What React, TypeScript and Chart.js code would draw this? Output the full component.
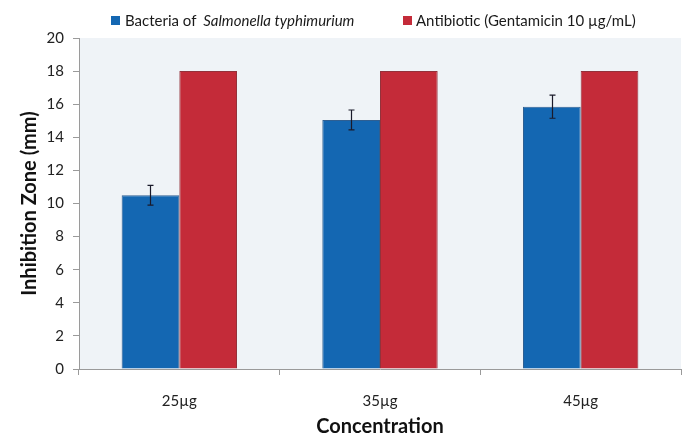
import React, { useEffect, useRef } from "react";
import { Chart, registerables } from "chart.js";

Chart.register(...registerables);

const categories = ["25µg", "35µg", "45µg"];
const bacteriaValues = [10.5, 15.05, 15.85];
const bacteriaErrors = [0.6, 0.6, 0.7];
const antibioticValues = [18, 18, 18];
const seriesNames = ["Bacteria of ", "Salmonella typhimurium", "Antibiotic (Gentamicin 10 µg/mL)"];
const yTitle = "Inhibition Zone (mm)";
const xTitle = "Concentration";

const BLUE = "#1467B2";
const RED = "#C42B39";
const FONT = "Lato, 'Open Sans', sans-serif";

const bgPlugin = {
  id: "plotBg",
  beforeDraw(chart: any) {
    const { ctx, chartArea } = chart;
    ctx.save();
    ctx.fillStyle = "#EFF3F7";
    ctx.fillRect(chartArea.left, chartArea.top, chartArea.right - chartArea.left, chartArea.bottom - chartArea.top);
    ctx.restore();
  },
};

const errorPlugin = {
  id: "errBars",
  afterDatasetsDraw(chart: any) {
    const { ctx } = chart;
    const meta = chart.getDatasetMeta(0);
    const y = chart.scales.y;
    ctx.save();
    ctx.strokeStyle = "#1a1a2a";
    ctx.lineWidth = 1.2;
    meta.data.forEach((bar: any, i: number) => {
      const v = bacteriaValues[i];
      const e = bacteriaErrors[i];
      const x = Math.round(bar.x) + 0.5;
      const yt = y.getPixelForValue(v + e);
      const yb = y.getPixelForValue(v - e);
      ctx.beginPath();
      ctx.moveTo(x, yt);
      ctx.lineTo(x, yb);
      ctx.moveTo(x - 3, yt);
      ctx.lineTo(x + 3, yt);
      ctx.moveTo(x - 3, yb);
      ctx.lineTo(x + 3, yb);
      ctx.stroke();
    });
    ctx.restore();
  },
};

const legendPlugin = {
  id: "customLegend",
  afterDraw(chart: any) {
    const { ctx } = chart;
    const cy = 21;
    ctx.save();
    ctx.textBaseline = "middle";
    ctx.fillStyle = BLUE;
    ctx.fillRect(111, cy - 5, 9, 9);
    ctx.fillStyle = "#1a1a1a";
    ctx.font = `15px ${FONT}`;
    ctx.fillText(seriesNames[0], 125, cy);
    const w0 = ctx.measureText(seriesNames[0]).width;
    ctx.font = `italic 15px ${FONT}`;
    ctx.fillText(seriesNames[1], 125 + w0 + 3, cy);
    ctx.fillStyle = RED;
    ctx.fillRect(403, cy - 5, 9, 9);
    ctx.fillStyle = "#1a1a1a";
    ctx.font = `15px ${FONT}`;
    ctx.fillText(seriesNames[2], 416, cy);
    ctx.restore();
  },
};

export default function App() {
  const ref = useRef<HTMLCanvasElement | null>(null);
  useEffect(() => {
    if (!ref.current) return;
    const chart = new Chart(ref.current, {
      type: "bar",
      data: {
        labels: categories,
        datasets: [
          {
            label: seriesNames[0] + seriesNames[1],
            data: bacteriaValues,
            backgroundColor: BLUE,
            borderColor: "#2f5f92",
            borderWidth: 1,
          },
          {
            label: seriesNames[2],
            data: antibioticValues,
            backgroundColor: RED,
            borderColor: "#93323b",
            borderWidth: 1,
          },
        ],
      },
      options: {
        responsive: false,
        animation: false,
        layout: { padding: { top: 38, right: 13, left: 0, bottom: 0 } },
        datasets: { bar: { categoryPercentage: 0.575, barPercentage: 1 } },
        plugins: {
          legend: { display: false },
          tooltip: { enabled: false },
        },
        scales: {
          x: {
            grid: {
              display: true,
              offset: true,
              drawOnChartArea: false,
              drawTicks: true,
              tickLength: 6,
              color: "#9a9a9a",
            },
            border: { display: true, color: "#9a9a9a" },
            ticks: { color: "#222", font: { family: FONT, size: 15 }, padding: 17 },
            title: {
              display: true,
              text: xTitle,
              color: "#111",
              font: { family: FONT, size: 20, weight: "bold" },
              padding: { top: 0, bottom: 0 },
            },
            afterFit(scale: any) {
              scale.height = 70;
            },
          },
          y: {
            min: 0,
            max: 20,
            ticks: { stepSize: 2, color: "#222", font: { family: FONT, size: 15 }, padding: 9 },
            grid: {
              display: true,
              drawOnChartArea: false,
              drawTicks: true,
              tickLength: 6,
              color: "#9a9a9a",
            },
            border: { display: true, color: "#9a9a9a" },
            title: {
              display: true,
              text: yTitle,
              color: "#111",
              font: { family: FONT, size: 20, weight: "bold" },
              padding: { top: 18, bottom: 0 },
            },
            afterFit(scale: any) {
              scale.width = 79;
            },
          },
        },
      },
      plugins: [bgPlugin, errorPlugin, legendPlugin],
    });
    return () => chart.destroy();
  }, []);
  return (
    <div style={{ position: "fixed", left: 0, top: 0, width: 694, height: 439, background: "#fff" }}>
      <canvas ref={ref} width={694} height={439} />
    </div>
  );
}
